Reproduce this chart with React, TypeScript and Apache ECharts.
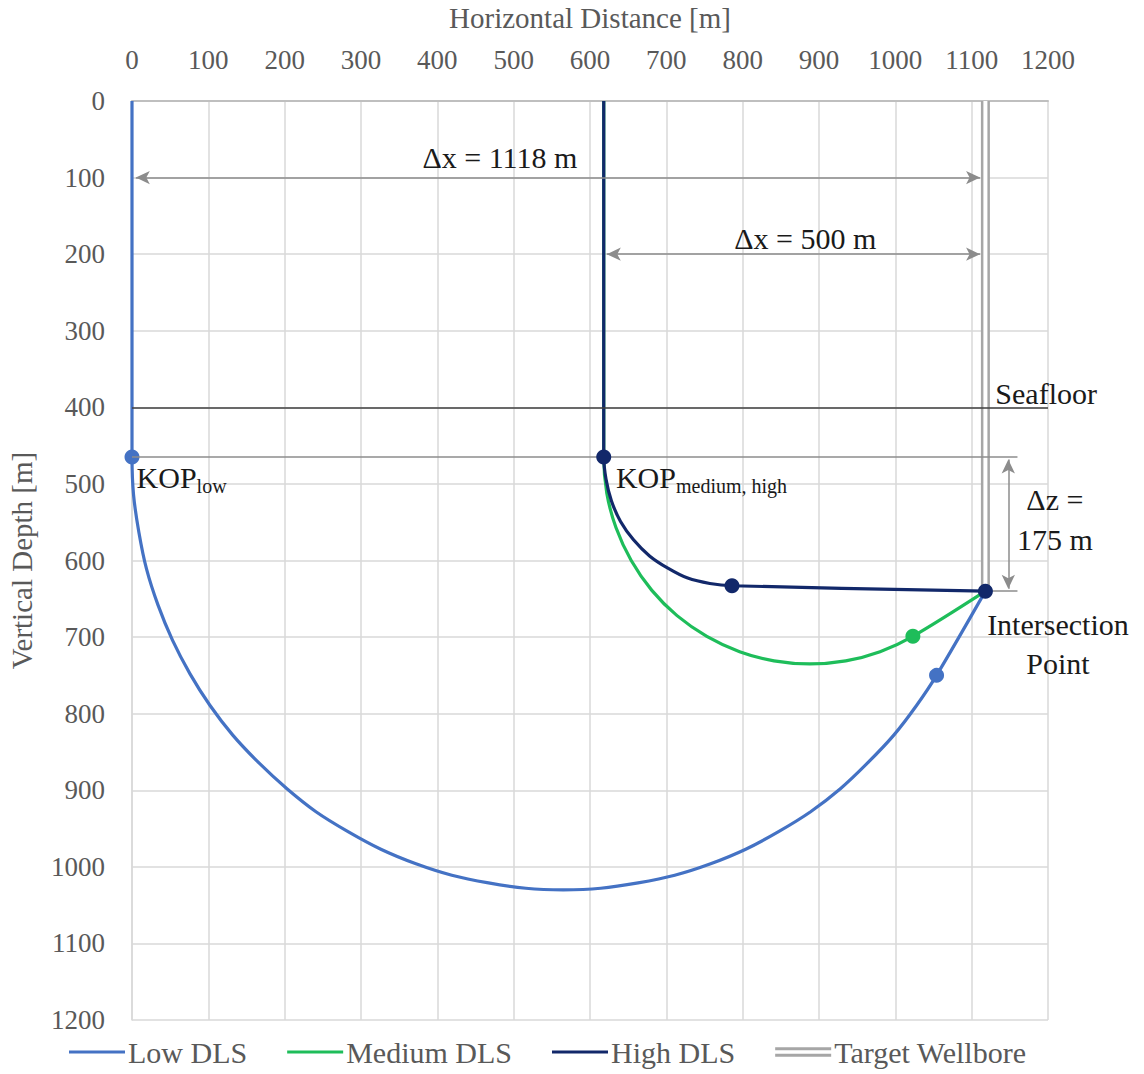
import React, { useEffect, useRef } from "react";
import * as echarts from "echarts";

// Trajectories [horizontal distance m, vertical depth m]
const lowDLS: [number, number][] = [
  [0, 0], [0, 465], [2, 514], [9, 563], [19, 611], [34, 658], [53, 704], [76, 748],
  [102, 789], [132, 828], [166, 864], [203, 898], [241, 928], [283, 954], [326, 977],
  [372, 996], [419, 1011], [467, 1021], [516, 1028], [565, 1030], [614, 1028],
  [663, 1021], [711, 1011], [758, 996], [804, 977], [847, 954], [889, 928],
  [928, 898], [964, 864], [998, 828], [1028, 789], [1054, 750], [1118, 640],
];
const mediumDLS: [number, number][] = [
  [618, 0], [618, 465], [622, 512], [634, 557], [654, 600], [681, 639], [714, 672],
  [753, 699], [796, 719], [841, 731], [888, 735], [935, 731], [980, 719],
  [1023, 699], [1118, 640],
];
const highDLS: [number, number][] = [
  [618, 0], [618, 465], [621, 494], [628, 522], [640, 549], [657, 573], [678, 594],
  [702, 610], [728, 623], [757, 630], [786, 633], [1118, 640],
];
const targetWellbore: [number, number][] = [[1118, 0], [1118, 640]];

const lowMarkers: [number, number][] = [[0, 465], [1054, 750]];
const mediumMarkers: [number, number][] = [[1023, 699]];
const highMarkers: [number, number][] = [[618, 465], [786, 633], [1118, 640]];

const seafloorDepth = 400;
const kopDepth = 465;
const intersection: [number, number] = [1118, 640];

const LOW = "#4472c4";
const MED = "#1ebd5a";
const HIGH = "#12286a";
const TGT = "#a6a6a6";
const FONT = '"Liberation Serif", "DejaVu Serif", serif';
const TICK = "#595959";

export default function App() {
  const ref = useRef<HTMLDivElement>(null);
  useEffect(() => {
    document.body.style.margin = "0";
    const chart = echarts.init(ref.current!, null, { renderer: "svg" });
    const lineIcon = "path://M0,0H60V3H0Z";
    const option: any = {
      animation: false,
      backgroundColor: "#fff",
      textStyle: { fontFamily: FONT },
      grid: { left: 132, right: 96, top: 101, bottom: 54, containLabel: false, outerBoundsMode: "none" },
      xAxis: {
        type: "value", position: "top", min: 0, max: 1200, interval: 100,
        name: "Horizontal Distance [m]", nameLocation: "middle", nameGap: 69, nameMoveOverlap: false,
        nameTextStyle: { fontSize: 29, color: TICK, fontFamily: FONT },
        axisLine: { show: true, lineStyle: { color: "#bfbfbf", width: 2 } },
        axisTick: { show: false },
        axisLabel: { fontSize: 27, color: TICK, margin: 28, fontFamily: FONT, formatter: (v: number) => String(v) },
        splitLine: { show: true, lineStyle: { color: "#d9d9d9", width: 1.5 } },
      },
      yAxis: {
        type: "value", inverse: true, min: 0, max: 1200, interval: 100,
        name: "Vertical Depth [m]", nameLocation: "middle", nameGap: 96, nameRotate: 90, nameMoveOverlap: false,
        nameTextStyle: { fontSize: 29, color: TICK, fontFamily: FONT },
        axisLine: { show: true, lineStyle: { color: "#d9d9d9", width: 1.5 } },
        axisTick: { show: false },
        axisLabel: { fontSize: 27, color: TICK, margin: 27, fontFamily: FONT, formatter: (v: number) => String(v) },
        splitLine: { show: true, lineStyle: { color: "#d9d9d9", width: 1.5 } },
      },
      legend: {
        bottom: 2, left: 64, itemGap: 40, itemWidth: 56, itemHeight: 10,
        textStyle: { fontSize: 30, color: TICK, fontFamily: FONT, padding: [0, 0, 0, -2] },
        data: [
          { name: "Low DLS", icon: lineIcon, itemStyle: { color: LOW } },
          { name: "Medium DLS", icon: lineIcon, itemStyle: { color: MED } },
          { name: "High DLS", icon: lineIcon, itemStyle: { color: HIGH } },
          { name: "Target Wellbore", icon: "path://M0,0H60V3H0Z M0,7H60V10H0Z", itemStyle: { color: TGT } },
        ],
      },
      series: [
        {
          name: "Target Wellbore", type: "line", data: targetWellbore, symbol: "none",
          lineStyle: { color: TGT, width: 9 }, itemStyle: { color: TGT }, z: 2,
        },
        {
          name: "tw-inner", type: "line", data: targetWellbore, symbol: "none",
          lineStyle: { color: "#fff", width: 4 }, z: 2, silent: true,
          markLine: {
            silent: true, symbol: ["none", "none"], label: { show: false },
            lineStyle: { type: "solid", color: "#8c8c8c", width: 1.5 },
            data: [
              [{ coord: [0, seafloorDepth], lineStyle: { color: "#404040", width: 1.5, type: "solid" } }, { coord: [1200, seafloorDepth] }],
              [{ coord: [0, kopDepth], lineStyle: { color: "#8c8c8c", width: 1.5, type: "solid" } }, { coord: [1160, kopDepth] }],
              [{ coord: [intersection[0], intersection[1]], lineStyle: { color: "#8c8c8c", width: 1.5, type: "solid" } }, { coord: [1160, intersection[1]] }],
            ],
          },
        },
        {
          name: "arrows", type: "line", data: [], symbol: "none",
          markLine: {
            silent: true, symbol: ["arrow", "arrow"], symbolSize: [10, 14], label: { show: false },
            lineStyle: { color: "#8c8c8c", width: 1.5, type: "solid" },
            data: [
              [{ coord: [5, 100] }, { coord: [1111, 100] }],
              [{ coord: [622, 200] }, { coord: [1111, 200] }],
              [{ coord: [1148, kopDepth + 3] }, { coord: [1148, intersection[1] - 3] }],
            ],
          },
        },
        { name: "Low DLS", type: "line", data: lowDLS, symbol: "none", smooth: 0.3, lineStyle: { color: LOW, width: 3.2 }, itemStyle: { color: LOW }, z: 3 },
        { name: "Medium DLS", type: "line", data: mediumDLS, symbol: "none", smooth: 0.3, lineStyle: { color: MED, width: 3.2 }, itemStyle: { color: MED }, z: 3 },
        { name: "High DLS", type: "line", data: highDLS, symbol: "none", smooth: 0.3, lineStyle: { color: HIGH, width: 3.2 }, itemStyle: { color: HIGH }, z: 3 },
        { name: "low-pts", type: "scatter", data: lowMarkers, symbolSize: 15, itemStyle: { color: LOW, opacity: 1 }, z: 4 },
        { name: "med-pts", type: "scatter", data: mediumMarkers, symbolSize: 15, itemStyle: { color: MED, opacity: 1 }, z: 4 },
        { name: "high-pts", type: "scatter", data: highMarkers, symbolSize: 15, itemStyle: { color: HIGH, opacity: 1 }, z: 5 },
      ],
    };
    chart.setOption(option);

    const px = (p: [number, number]) => chart.convertToPixel({ gridIndex: 0 }, p) as number[];
    const txt = (p: [number, number], text: string, align: string, extra: any = {}) => {
      const [x, y] = px(p);
      return {
        type: "text", x, y, z: 100,
        style: { text, fontSize: 30, fontFamily: FONT, fill: "#1a1a1a", align, verticalAlign: "middle", ...extra },
      };
    };
    const rich = {
      a: { fontSize: 30, fontFamily: FONT, color: "#1a1a1a" },
      b: { fontSize: 20, fontFamily: FONT, color: "#1a1a1a", padding: [16, 0, 0, 0] },
    };
    chart.setOption({
      graphic: [
        txt([482, 74], "Δx = 1118 m", "center"),
        txt([882, 180], "Δx = 500 m", "center"),
        txt([1131, 382], "Seafloor", "left"),
        txt([1209, 521], "Δz =", "center"),
        txt([1209, 573], "175 m", "center"),
        txt([1213, 684], "Intersection", "center"),
        txt([1213, 734], "Point", "center"),
        txt([6, 492], "{a|KOP}{b|low}", "left", { rich }),
        txt([634, 492], "{a|KOP}{b|medium, high}", "left", { rich }),
      ],
    });
    return () => chart.dispose();
  }, []);
  return <div ref={ref} style={{ width: 1144, height: 1074 }} />;
}
